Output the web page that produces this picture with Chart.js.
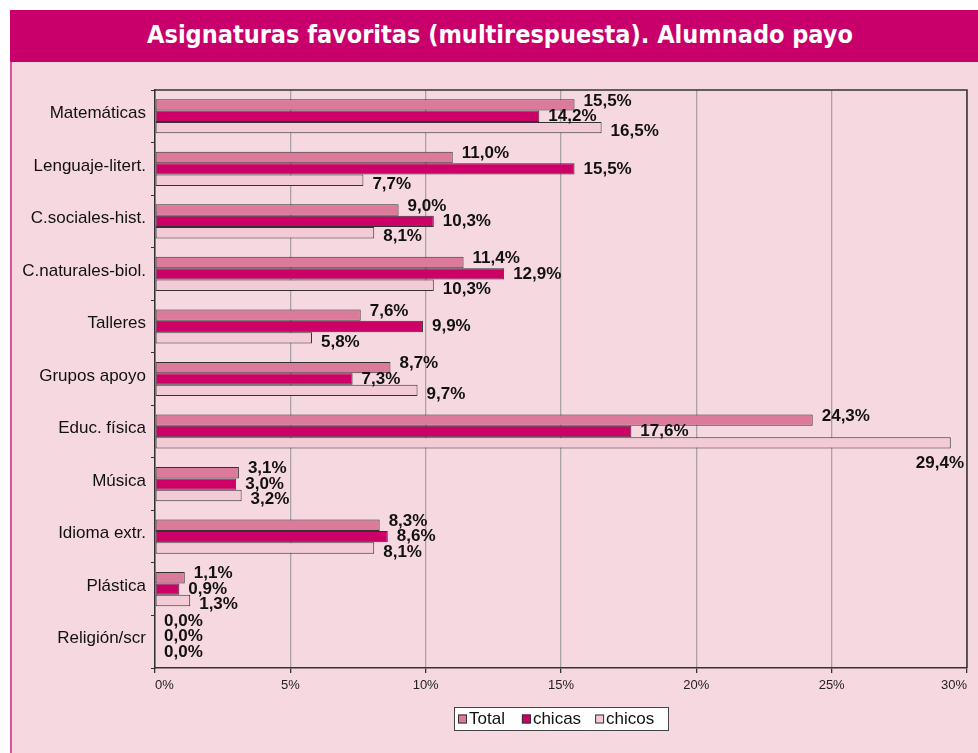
<!DOCTYPE html>
<html>
<head>
<meta charset="utf-8">
<script src="https://cdn.jsdelivr.net/npm/chart.js@4.4.1/dist/chart.umd.min.js"></script>
<style>
  html, body { margin:0; padding:0; background:#ffffff; }
  #wrap { position:relative; width:978px; height:753px; overflow:hidden; }
  #header { position:absolute; left:10px; top:10px; width:968px; height:52px; background:#C9006B;
            color:#fff; font-family:"DejaVu Sans Condensed","DejaVu Sans",sans-serif; font-weight:bold;
            font-size:25px; line-height:50px; text-align:center; padding-left:12px; box-sizing:border-box; }
  #panel { position:absolute; left:10px; top:62px; width:968px; height:691px; background:#F6D9E0;
           border-left:2px solid #E24DA8; box-sizing:border-box; }
  #c { position:absolute; left:0; top:0; }
</style>
</head>
<body>
<div id="wrap">
  <div id="header">Asignaturas favoritas (multirespuesta). Alumnado payo</div>
  <div id="panel"></div>
  <canvas id="c" width="978" height="753"></canvas>
</div>
<script>
const categories = ["Matemáticas","Lenguaje-litert.","C.sociales-hist.","C.naturales-biol.","Talleres","Grupos apoyo","Educ. física","Música","Idioma extr.","Plástica","Religión/scr"];
const seriesNames = ["Total","chicas","chicos"];
const totalValues  = [15.5, 11.0, 9.0, 11.4, 7.6, 8.7, 24.3, 3.1, 8.3, 1.1, 0.0];
const chicasValues = [14.2, 15.5, 10.3, 12.9, 9.9, 7.3, 17.6, 3.0, 8.6, 0.9, 0.0];
const chicosValues = [16.5, 7.7, 8.1, 10.3, 5.8, 9.7, 29.4, 3.2, 8.1, 1.3, 0.0];
const xTicks = [0, 5, 10, 15, 20, 25, 30];

const colors = ["#DC7A9B", "#CC0066", "#F3CBD7"];

const fmt = v => v.toFixed(1).replace('.', ',') + '%';

const labelPlugin = {
  id: 'valLabels',
  afterDatasetsDraw(chart) {
    const ctx = chart.ctx;
    const area = chart.chartArea;
    ctx.save();
    ctx.font = 'bold 17px "Liberation Sans", Arial, sans-serif';
    ctx.fillStyle = '#111';
    ctx.textBaseline = 'middle';
    const dy = [-4, 0, 4];
    chart.data.datasets.forEach((ds, di) => {
      const meta = chart.getDatasetMeta(di);
      meta.data.forEach((el, i) => {
        const txt = fmt(ds.data[i]);
        const w = ctx.measureText(txt).width;
        let x = el.x + 9, y = el.y + dy[di];
        if (ds.data[i] === 0) y -= 5;
        ctx.textAlign = 'left';
        if (x + w > area.right) {
          ctx.textAlign = 'right';
          x = area.right - 3;
          y = el.y + 20;
        }
        ctx.fillText(txt, x, y);
      });
    });
    ctx.restore();
  }
};

const framePlugin = {
  id: 'frame',
  afterDraw(chart) {
    const ctx = chart.ctx;
    const a = chart.chartArea;
    ctx.save();
    ctx.strokeStyle = '#333';
    ctx.lineWidth = 1.5;
    ctx.beginPath();
    ctx.moveTo(a.left, a.top);
    ctx.lineTo(a.right, a.top);
    ctx.lineTo(a.right, a.bottom);
    ctx.stroke();
    // legend
    const lx = 454, ly = 707, lw = 214, lh = 23;
    ctx.fillStyle = '#ffffff';
    ctx.fillRect(lx, ly, lw, lh);
    ctx.lineWidth = 1;
    ctx.strokeStyle = '#444';
    ctx.strokeRect(lx + 0.5, ly + 0.5, lw, lh);
    ctx.font = '17px "Liberation Sans", Arial, sans-serif';
    ctx.textBaseline = 'middle';
    ctx.textAlign = 'left';
    let x = lx + 4;
    const cy = ly + lh / 2 + 1;
    const gaps = [17, 14, 0];
    chart.data.datasets.forEach((ds, di) => {
      ctx.fillStyle = ds.backgroundColor;
      ctx.fillRect(x, cy - 5, 9, 9);
      ctx.strokeStyle = '#333';
      ctx.strokeRect(x + 0.5, cy - 4.5, 8, 8);
      ctx.fillStyle = '#111';
      ctx.fillText(ds.label, x + 11, cy);
      x += 11 + ctx.measureText(ds.label).width + gaps[di];
    });
    ctx.restore();
  }
};

new Chart(document.getElementById('c'), {
  type: 'bar',
  data: {
    labels: categories,
    datasets: [
      { label: seriesNames[0], data: totalValues,  backgroundColor: colors[0] },
      { label: seriesNames[1], data: chicasValues, backgroundColor: colors[1] },
      { label: seriesNames[2], data: chicosValues, backgroundColor: colors[2] }
    ]
  },
  options: {
    indexAxis: 'y',
    responsive: false,
    animation: false,
    devicePixelRatio: 1,
    layout: { padding: { left: 0, right: 11, top: 90, bottom: 55 } },
    datasets: {
      bar: {
        borderColor: '#333', borderWidth: 1, borderSkipped: false,
        categoryPercentage: 0.65, barPercentage: 1.0
      }
    },
    plugins: {
      legend: { display: false },
      tooltip: { enabled: false },
      title: { display: false }
    },
    scales: {
      x: {
        min: 0, max: 30,
        afterFit(s) { s.height = 30; s.paddingLeft = 0; s.paddingRight = 0; },
        afterBuildTicks(s) { s.ticks = xTicks.map(v => ({ value: v })); },
        ticks: {
          callback: v => v + '%',
          font: { family: '"Liberation Sans Narrow", "Liberation Sans", Arial, sans-serif', size: 13 },
          color: '#222', padding: 5, maxRotation: 0, align: 'inner'
        },
        grid: { color: '#A9A2A6', lineWidth: 1.3, tickColor: '#333', tickLength: 5 },
        border: { color: '#333', width: 1.5 }
      },
      y: {
        afterFit(s) { s.width = 155; s.paddingTop = 0; s.paddingBottom = 0; },
        ticks: {
          font: { family: '"Liberation Sans", Arial, sans-serif', size: 17 },
          color: '#111', padding: 5, labelOffset: -3
        },
        grid: { drawOnChartArea: false, color: '#333', tickLength: 4, offset: true },
        border: { color: '#333', width: 1.5 }
      }
    }
  },
  plugins: [labelPlugin, framePlugin]
});
</script>
</body>
</html>
